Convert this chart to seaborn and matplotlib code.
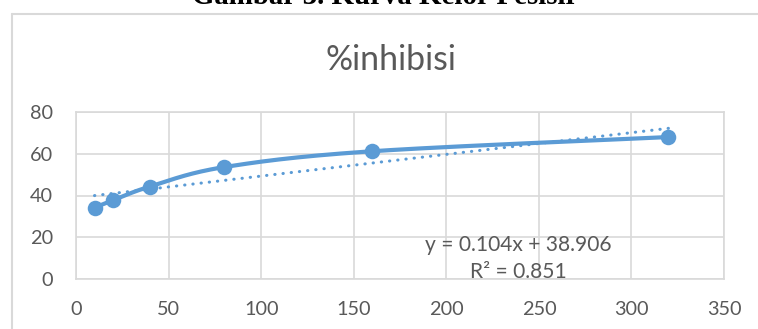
import numpy as np
import pandas as pd
import matplotlib
matplotlib.use("Agg")
import matplotlib.pyplot as plt
from matplotlib.lines import Line2D
import seaborn as sns

# ---- data ----
konsentrasi = [10, 20, 40, 80, 160, 320]
inhibisi = [34.2, 37.7, 44.3, 53.6, 61.2, 68.0]
x_ticks = [0, 50, 100, 150, 200, 250, 300, 350]
y_ticks = [0, 20, 40, 60, 80]
chart_title = "%inhibisi"
caption = "Gambar 3. Kurva Kelor Pesisir"
eq_text = "y = 0.104x + 38.906"
r2_text = "R² = 0.851"

sns.set_theme(style="white")
plt.rcParams['font.family'] = ['Lato', 'DejaVu Sans']

W, H = 758, 329
fig = plt.figure(figsize=(W / 100, H / 100), dpi=100)
ax = fig.add_axes([76 / W, 1 - 279 / H, (724 - 76) / W, (279 - 112) / H])

blue = "#5B9BD5"
grid = "#D9D9D9"
txt = "#595959"

ax.set_xlim(0, 350)
ax.set_ylim(0, 80)

# smoothed line (Excel-like Bezier in display-proportional space)
xs = np.array(konsentrasi, float)
ys = np.array(inhibisi, float)
sx, sy = 648 / 350, 167 / 80
P = np.column_stack([xs * sx, ys * sy])
curve = []
n = len(P)
for i in range(n - 1):
    p0 = P[i - 1] if i > 0 else P[i]
    p1, p2 = P[i], P[i + 1]
    p3 = P[i + 2] if i + 2 < n else P[i + 1]
    c1 = p1 + (p2 - p0) / 6
    c2 = p2 - (p3 - p1) / 6
    t = np.linspace(0, 1, 40)[:, None]
    seg = (1 - t) ** 3 * p1 + 3 * (1 - t) ** 2 * t * c1 + 3 * (1 - t) * t ** 2 * c2 + t ** 3 * p2
    curve.append(seg if i == 0 else seg[1:])
curve = np.vstack(curve)
ax.plot(curve[:, 0] / sx, curve[:, 1] / sy, color=blue, lw=3.0, solid_capstyle="round", zorder=3)

# linear trendline
m, b = np.polyfit(xs, ys, 1)
tx = np.array([xs.min(), xs.max()])
ax.plot(tx, m * tx + b, color=blue, lw=2.2, linestyle=(0, (0.1, 2.6)),
        dash_capstyle="round", zorder=2)

df = pd.DataFrame({"konsentrasi": konsentrasi, "inhibisi": inhibisi})
sns.scatterplot(data=df, x="konsentrasi", y="inhibisi", ax=ax, color=blue,
                s=125, edgecolor=blue, linewidth=0, zorder=4, legend=False)

ax.set_xticks(x_ticks)
ax.set_yticks(y_ticks)
ax.set_xlabel("")
ax.set_ylabel("")
ax.grid(True, color=grid, lw=1.2)
ax.set_axisbelow(True)
for s in ax.spines.values():
    s.set_color(grid)
    s.set_linewidth(1.2)
ax.tick_params(axis="both", length=0, labelsize=14, labelcolor=txt)

eq = fig.text(518 / W, 1 - 245 / H, eq_text, ha="center", va="center", fontsize=12.5, color=txt)
r2 = fig.text(518 / W, 1 - 272 / H, r2_text, ha="center", va="center", fontsize=12.5, color=txt)
ttl = fig.text(391 / W, 1 - 60 / H, chart_title, ha="center", va="center", fontsize=20, color=txt)

# outer chart border
fig.add_artist(Line2D([11.5 / W, 1.0], [1 - 13.5 / H, 1 - 13.5 / H], transform=fig.transFigure,
                      color=grid, lw=1.5))
fig.add_artist(Line2D([11.5 / W, 11.5 / W], [1 - 13.5 / H, 0], transform=fig.transFigure,
                      color=grid, lw=1.5))

# caption partially cut at top (as in the reference)
cap = fig.text(385 / W, 1 - 4.5 / H, caption, ha="center", va="baseline",
               fontsize=20, fontweight="bold", color="black",
               family=["Liberation Serif"])

# fit text sizes to the reference widths
fig.canvas.draw()
def fit(t, target):
    w = t.get_window_extent().width
    t.set_fontsize(t.get_fontsize() * target / w)
fit(cap, 387)
fit(ttl, 132)
fit(eq, 187)
fit(r2, 97)
lab = [l for l in ax.get_xticklabels() if l.get_text() == "350"][0]
w350 = lab.get_window_extent().width
ts = 14 * 35 / w350
ax.tick_params(axis="both", labelsize=ts)
ax.tick_params(axis="x", pad=24 / 1.389 - 0.1 * ts)
ax.tick_params(axis="y", pad=23 / 1.389)

fig.savefig("out.png", dpi=100)
